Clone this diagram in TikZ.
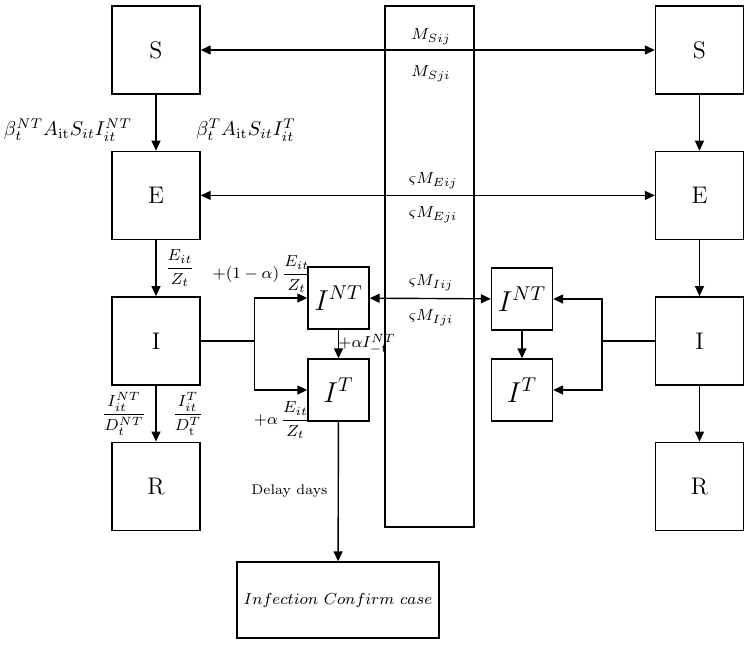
\documentclass[tikz,border=0pt]{standalone}
\usepackage{amsmath}
\usepackage{tikz}
\usetikzlibrary{arrows.meta,positioning}
\tikzset{
  comp/.style={draw,line width=0.7pt,minimum width=44pt,minimum height=44pt,
               inner sep=0pt,font=\large},
  subc/.style={comp,minimum width=30.5pt,minimum height=31pt,font=\Large},
  flow/.style={-{Triangle[length=5pt,width=4.5pt]},line width=0.7pt},
  flowb/.style={{Triangle[length=5pt,width=4.5pt]}-{Triangle[length=5pt,width=4.5pt]},
                line width=0.7pt},
  lnk/.style={line width=0.7pt},
  lbl/.style={inner sep=1pt,font=\footnotesize},
  blbl/.style={inner sep=1pt,font=\normalsize},
}

\begin{document}
\begin{tikzpicture}[x=0.5pt,y=-0.5pt,node distance=28pt]
  \useasboundingbox (0,0) rectangle (750,645);

  \node[draw,line width=0.7pt,minimum width=44.5pt,minimum height=260.5pt] (mob) at (429.5,266.5) {};

  \node[comp] (S1) at (156,50) {S};
  \node[comp,below=of S1] (E1) {E};
  \node[comp,below=of E1] (I1) {I};
  \node[comp,below=of I1] (R1) {R};

  \node[comp] (S2) at (699.5,50) {S};
  \node[comp,below=of S2] (E2) {E};
  \node[comp,below=of E2] (I2) {I};
  \node[comp,below=of I2] (R2) {R};

  \node[subc] (INT1) at (338.5,298) {$I^{NT}$};
  \node[subc] (IT1) at (338.5,390) {$I^{T}$};
  \node[subc] (INT2) at (522,299) {$I^{NT}$};
  \node[subc] (IT2) at (522,390) {$I^{T}$};

  \node[draw,line width=0.7pt,minimum width=99pt,minimum height=38pt,font=\footnotesize]
    (conf) at (338,600) {$Infection\ Confirm\ case$};

  \coordinate[right=27pt of I1.east] (split1);
  \coordinate[left=26.5pt of I2.west] (split2);

  \draw[flow] (S1) -- (E1);
  \draw[flow] (E1) -- (I1);
  \draw[flow] (I1) -- (R1);
  \draw[flow] (S2) -- (E2);
  \draw[flow] (E2) -- (I2);
  \draw[flow] (I2) -- (R2);

  \draw[flowb] (S1) -- (S2);
  \draw[flowb] (E1) -- (E2);
  \draw[flowb] (INT1) -- (INT2);

  \draw[lnk] (I1.east) -- (split1);
  \draw[flow] (split1) |- (INT1);
  \draw[flow] (split1) |- (IT1);
  \draw[lnk] (I2.west) -- (split2);
  \draw[flow] (split2) |- (INT2);
  \draw[flow] (split2) |- (IT2);

  \draw[flow] (INT1) -- (IT1);
  \draw[flow] (INT2) -- (IT2);
  \draw[flow] (IT1) -- node[lbl,left=4pt,font=\scriptsize]{Delay days} (conf);

  \node[blbl] (bnt) at (68,130) {$\beta_t^{NT}A_{\mathrm{it}}S_{it}I_{it}^{NT}$};
  \node[blbl] (bt) at (246,130) {$\beta_t^{T}A_{\mathrm{it}}S_{it}I_{it}^{T}$};
  \node[lbl] (ez) at (180,268) {$\dfrac{E_{it}}{Z_t}$};
  \node[lbl] (rnt) at (124,414) {$\dfrac{I_{it}^{NT}}{D_t^{NT}}$};
  \node[lbl] (rt) at (188,414) {$\dfrac{I_{it}^{T}}{D_{\mathrm{t}}^{T}}$};
  \node[lbl] (ent) at (262,274) {$+(1-\alpha)\,\dfrac{E_{it}}{Z_t}$};
  \node[lbl] (ant) at (367,344) {$+\alpha I_{-\mathrm{t}}^{NT}$};
  \node[lbl] (et) at (282,420) {$+\alpha\,\dfrac{E_{it}}{Z_t}$};

  \node[lbl] (msij) at (431,37) {$M_{Sij}$};
  \node[lbl] (msji) at (431,74) {$M_{Sji}$};
  \node[lbl] (meij) at (433,181) {$\varsigma M_{Eij}$};
  \node[lbl] (meji) at (433,215) {$\varsigma M_{Eji}$};
  \node[lbl] (miij) at (431,283) {$\varsigma M_{Iij}$};
  \node[lbl] (miji) at (431,318) {$\varsigma M_{Iji}$};
\end{tikzpicture}
\end{document}
